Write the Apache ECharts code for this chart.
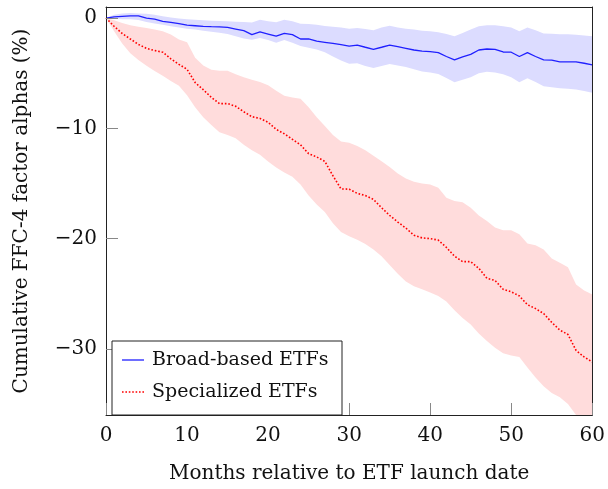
<!DOCTYPE html>
<html><head><meta charset="utf-8">
<script src="https://cdn.jsdelivr.net/npm/echarts@6/dist/echarts.min.js"></script>
<style>html,body{margin:0;padding:0;background:#fff}#c{width:608px;height:489px}</style>
</head><body><div id="c"></div>
<script>
const months = [0,1,2,3,4,5,6,7,8,9,10,11,12,13,14,15,16,17,18,19,20,21,22,23,24,25,26,27,28,29,30,31,32,33,34,35,36,37,38,39,40,41,42,43,44,45,46,47,48,49,50,51,52,53,54,55,56,57,58,59,60];
const broadMean = [0,0.1,0.15,0.2,0.2,0.0,-0.1,-0.3,-0.4,-0.5,-0.65,-0.7,-0.75,-0.78,-0.8,-0.85,-1.0,-1.15,-1.5,-1.25,-1.45,-1.65,-1.4,-1.5,-1.9,-1.9,-2.1,-2.2,-2.3,-2.42,-2.54,-2.45,-2.65,-2.84,-2.65,-2.45,-2.6,-2.75,-2.9,-3.0,-3.05,-3.13,-3.49,-3.79,-3.52,-3.29,-2.9,-2.81,-2.84,-3.08,-3.1,-3.49,-3.13,-3.49,-3.79,-3.82,-3.97,-3.97,-3.97,-4.1,-4.24];
const broadUpper = [0,0.3,0.42,0.45,0.42,0.38,0.3,0.15,0.05,-0.05,-0.1,-0.15,-0.2,-0.25,-0.28,-0.3,-0.33,-0.37,-0.4,-0.15,-0.3,-0.39,-0.15,-0.3,-0.51,-0.55,-0.6,-0.72,-0.8,-0.85,-0.98,-0.9,-1.0,-1.1,-0.85,-0.69,-0.85,-0.98,-1.05,-1.15,-1.2,-1.29,-1.45,-1.65,-1.35,-1.05,-0.75,-0.66,-0.66,-0.75,-0.87,-1.2,-0.87,-1.1,-1.4,-1.43,-1.46,-1.48,-1.52,-1.58,-1.65];
const broadLower = [0,-0.05,-0.1,-0.12,-0.18,-0.35,-0.5,-0.6,-0.75,-0.85,-0.97,-1.05,-1.15,-1.25,-1.34,-1.45,-1.65,-1.85,-1.97,-1.8,-2.0,-2.24,-2.0,-2.25,-2.54,-2.7,-2.85,-3.1,-3.5,-3.85,-4.15,-4.1,-4.35,-4.54,-4.35,-4.18,-4.3,-4.45,-4.65,-4.85,-4.95,-5.08,-5.45,-5.82,-5.6,-5.37,-5.0,-4.87,-4.95,-5.1,-5.37,-5.82,-5.46,-5.8,-6.18,-6.28,-6.36,-6.42,-6.48,-6.62,-6.78];
const specMean = [0,-0.75,-1.4,-1.9,-2.39,-2.75,-2.95,-3.1,-3.7,-4.2,-4.65,-5.85,-6.5,-7.2,-7.76,-7.76,-8.0,-8.5,-8.95,-9.1,-9.45,-10.1,-10.5,-11.0,-11.5,-12.3,-12.6,-13.0,-14.3,-15.5,-15.52,-15.9,-16.1,-16.45,-17.2,-17.9,-18.5,-19.05,-19.7,-19.94,-20.0,-20.14,-20.8,-21.6,-22.09,-22.09,-22.7,-23.6,-23.8,-24.6,-24.83,-25.2,-26.0,-26.35,-26.8,-27.6,-28.3,-28.7,-30.14,-30.74,-31.19];
const specUpper = [0,-0.2,-0.45,-0.65,-0.8,-0.9,-1.05,-1.2,-1.5,-1.95,-2.2,-3.6,-4.3,-4.7,-4.78,-4.78,-5.1,-5.37,-5.6,-5.8,-6.1,-6.6,-7.05,-7.2,-7.31,-8.1,-9.0,-9.8,-10.6,-11.19,-11.3,-11.6,-12.0,-12.5,-12.98,-13.5,-14.1,-14.55,-14.85,-15.0,-15.1,-15.4,-16.3,-16.6,-16.71,-17.2,-17.9,-18.4,-19.0,-19.25,-19.25,-19.6,-20.45,-20.6,-21.0,-21.8,-22.2,-22.6,-24.17,-24.7,-25.07];
const specLower = [0,-1.2,-2.3,-3.2,-3.8,-4.33,-4.8,-5.23,-5.7,-6.15,-7.0,-8.1,-9.0,-9.7,-10.35,-10.6,-10.9,-11.5,-12.0,-12.4,-13.0,-13.55,-14.0,-14.4,-15.1,-16.1,-16.9,-17.6,-18.6,-19.4,-19.8,-20.1,-20.5,-21.0,-21.6,-22.4,-23.2,-23.9,-24.32,-24.6,-24.9,-25.2,-25.7,-26.5,-27.2,-27.8,-28.6,-29.3,-29.9,-30.4,-30.6,-30.74,-31.7,-32.6,-33.4,-34.0,-34.4,-35.0,-37.5,-38.5,-39.0];
const xTicks = [0,10,20,30,40,50,60];
const yTicks = [-30,-20,-10,0];
const seriesNames = ['Broad-based ETFs','Specialized ETFs'];
const xTitle = 'Months relative to ETF launch date';
const yTitle = 'Cumulative FFC-4 factor alphas (%)';

const FONT = 'DejaVu Serif';
const FS = 20;
const LFS = 19;
const pairs = arr => months.map((m, i) => [m, arr[i]]);
const fmt = v => v < 0 ? '\u2212' + Math.abs(v) : String(v);

function bandSeries(lower, upper, color) {
  return {
    type: 'custom', data: [[0, 0]], silent: true, z: 1,
    renderItem: (params, api) => {
      const pts = [];
      months.forEach((m, i) => pts.push(api.coord([m, upper[i]])));
      for (let i = months.length - 1; i >= 0; i--) pts.push(api.coord([months[i], lower[i]]));
      const cs = params.coordSys;
      const clipped = echarts.graphic.clipPointsByRect(pts, { x: cs.x, y: cs.y, width: cs.width, height: cs.height });
      return { type: 'polygon', shape: { points: clipped }, style: { fill: color } };
    }
  };
}

const solidIcon = 'path://M0,0h22v1.3h-22z';
const dotIcon = 'path://M0,0h1.6v1.6h-1.6z M3.4,0h1.6v1.6h-1.6z M6.8,0h1.6v1.6h-1.6z M10.2,0h1.6v1.6h-1.6z M13.6,0h1.6v1.6h-1.6z M17,0h1.6v1.6h-1.6z M20.4,0h1.6v1.6h-1.6z';

const chart = echarts.init(document.getElementById('c'), null, { renderer: 'canvas' });
const axisCommon = { fontFamily: FONT, fontSize: FS, color: '#111' };
chart.setOption({
  animation: false,
  backgroundColor: '#fff',
  grid: { left: 106, right: 13, top: 7, bottom: 68, containLabel: false },
  xAxis: [{
    type: 'value', min: 0, max: 60, interval: 10, z: 3,
    name: xTitle, nameLocation: 'middle', nameGap: 49,
    nameTextStyle: { fontFamily: FONT, fontSize: FS, color: '#111' },
    axisLine: { show: true, onZero: false, lineStyle: { color: '#222', width: 1 } },
    axisTick: { show: true, inside: true, length: 12, customValues: xTicks, lineStyle: { color: '#888' } },
    axisLabel: { ...axisCommon, margin: 11, customValues: xTicks, formatter: fmt },
    splitLine: { show: false }
  }, {
    type: 'value', position: 'top', min: 0, max: 60, z: 3,
    axisLine: { show: true, onZero: false, lineStyle: { color: '#222', width: 1 } },
    axisTick: { show: false }, axisLabel: { show: false }, splitLine: { show: false }
  }],
  yAxis: [{
    type: 'value', min: -36, max: 1, z: 3,
    name: yTitle, nameLocation: 'middle', nameGap: 74,
    nameTextStyle: { fontFamily: FONT, fontSize: FS, color: '#111' },
    axisLine: { show: true, onZero: false, lineStyle: { color: '#222', width: 1 } },
    axisTick: { show: true, inside: true, length: 12, customValues: yTicks, lineStyle: { color: '#888' } },
    axisLabel: { ...axisCommon, margin: 9, customValues: yTicks, formatter: fmt },
    splitLine: { show: false }
  }, {
    type: 'value', position: 'right', min: -36, max: 1, z: 3,
    axisLine: { show: true, onZero: false, lineStyle: { color: '#222', width: 1 } },
    axisTick: { show: false }, axisLabel: { show: false }, splitLine: { show: false }
  }],
  legend: {
    data: [{ name: seriesNames[0], icon: solidIcon }, { name: seriesNames[1], icon: dotIcon }],
    orient: 'vertical', left: 122, top: 349, padding: 0,
    itemWidth: 22, itemHeight: 12, itemGap: 10, z: 6,
    textStyle: { fontFamily: FONT, fontSize: LFS, color: '#111', lineHeight: 22, padding: [0, 0, 0, 3] }
  },
  graphic: [{
    type: 'rect', z: 5, shape: { x: 112, y: 341, width: 230, height: 74 },
    style: { fill: '#fff', stroke: '#222', lineWidth: 1 }
  }],
  series: [
    bandSeries(broadLower, broadUpper, '#dcdcff'),
    bandSeries(specLower, specUpper, '#ffdcdc'),
    { type: 'line', name: seriesNames[0], data: pairs(broadMean), symbol: 'none', showSymbol: false,
      lineStyle: { color: '#2020ff', width: 1.3 }, itemStyle: { color: '#2020ff' }, z: 2 },
    { type: 'line', name: seriesNames[1], data: pairs(specMean), symbol: 'none', showSymbol: false,
      lineStyle: { color: '#ff0000', width: 1.6, type: [1.6, 1.9] }, itemStyle: { color: '#ff0000' }, z: 2 }
  ]
});
</script></body></html>
